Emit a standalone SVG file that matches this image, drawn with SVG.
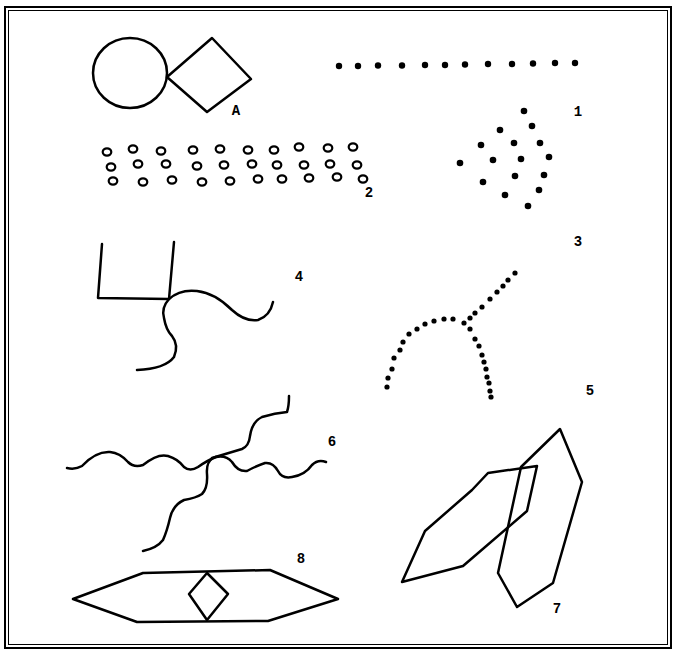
<svg xmlns="http://www.w3.org/2000/svg" width="673" height="651" viewBox="0 0 673 651">
<style>
.ln{fill:none;stroke:#000;stroke-width:2.5;stroke-linejoin:round;stroke-linecap:round}
.dot{fill:#000}
.ring{fill:none;stroke:#000;stroke-width:2.2}
.lbl{font-family:"Liberation Mono","DejaVu Sans Mono",monospace;font-weight:bold;font-size:14px;fill:#000;text-anchor:middle}
</style>
<rect width="673" height="651" fill="#fff"/>
<g id="frame">
<rect x="5" y="7" width="666" height="641" fill="none" stroke="#000" stroke-width="2"/>
<rect x="8.5" y="10.5" width="659" height="634" fill="none" stroke="#000" stroke-width="1"/>
</g>
<g id="figA">
<ellipse class="ln" cx="130" cy="73" rx="37" ry="35"/>
<polygon class="ln" points="167,77 212,38 251,79 207,112"/>
<text class="lbl" x="236" y="115">A</text>
</g>
<g id="fig1">
<circle class="dot" cx="339" cy="66" r="3.2"/>
<circle class="dot" cx="358" cy="66" r="3.2"/>
<circle class="dot" cx="378" cy="65.5" r="3.2"/>
<circle class="dot" cx="402" cy="65.5" r="3.2"/>
<circle class="dot" cx="425" cy="65" r="3.2"/>
<circle class="dot" cx="445" cy="65" r="3.2"/>
<circle class="dot" cx="465" cy="64.5" r="3.2"/>
<circle class="dot" cx="488" cy="64" r="3.2"/>
<circle class="dot" cx="512" cy="64" r="3.2"/>
<circle class="dot" cx="533" cy="63.5" r="3.2"/>
<circle class="dot" cx="555" cy="63" r="3.2"/>
<circle class="dot" cx="575" cy="63" r="3.2"/>
<text class="lbl" x="578" y="116">1</text>
</g>
<g id="fig2">
<ellipse class="ring" cx="107" cy="152" rx="4.3" ry="3.6"/>
<ellipse class="ring" cx="133" cy="149" rx="4.3" ry="3.6"/>
<ellipse class="ring" cx="161" cy="151" rx="4.3" ry="3.6"/>
<ellipse class="ring" cx="193" cy="150" rx="4.3" ry="3.6"/>
<ellipse class="ring" cx="220" cy="149" rx="4.3" ry="3.6"/>
<ellipse class="ring" cx="248" cy="150" rx="4.3" ry="3.6"/>
<ellipse class="ring" cx="274" cy="150" rx="4.3" ry="3.6"/>
<ellipse class="ring" cx="299" cy="147" rx="4.3" ry="3.6"/>
<ellipse class="ring" cx="328" cy="148" rx="4.3" ry="3.6"/>
<ellipse class="ring" cx="353" cy="147" rx="4.3" ry="3.6"/>
<ellipse class="ring" cx="111" cy="167" rx="4.3" ry="3.6"/>
<ellipse class="ring" cx="138" cy="164" rx="4.3" ry="3.6"/>
<ellipse class="ring" cx="166" cy="164" rx="4.3" ry="3.6"/>
<ellipse class="ring" cx="197" cy="166" rx="4.3" ry="3.6"/>
<ellipse class="ring" cx="224" cy="165" rx="4.3" ry="3.6"/>
<ellipse class="ring" cx="252" cy="164" rx="4.3" ry="3.6"/>
<ellipse class="ring" cx="277" cy="165" rx="4.3" ry="3.6"/>
<ellipse class="ring" cx="304" cy="165" rx="4.3" ry="3.6"/>
<ellipse class="ring" cx="330" cy="164" rx="4.3" ry="3.6"/>
<ellipse class="ring" cx="357" cy="165" rx="4.3" ry="3.6"/>
<ellipse class="ring" cx="113" cy="181" rx="4.3" ry="3.6"/>
<ellipse class="ring" cx="143" cy="182" rx="4.3" ry="3.6"/>
<ellipse class="ring" cx="172" cy="180" rx="4.3" ry="3.6"/>
<ellipse class="ring" cx="202" cy="182" rx="4.3" ry="3.6"/>
<ellipse class="ring" cx="230" cy="181" rx="4.3" ry="3.6"/>
<ellipse class="ring" cx="258" cy="179" rx="4.3" ry="3.6"/>
<ellipse class="ring" cx="282" cy="179" rx="4.3" ry="3.6"/>
<ellipse class="ring" cx="309" cy="178" rx="4.3" ry="3.6"/>
<ellipse class="ring" cx="337" cy="177" rx="4.3" ry="3.6"/>
<ellipse class="ring" cx="363" cy="179" rx="4.3" ry="3.6"/>
<text class="lbl" x="369" y="197">2</text>
</g>
<g id="fig3">
<circle class="dot" cx="524" cy="111" r="3.3"/>
<circle class="dot" cx="532" cy="126" r="3.3"/>
<circle class="dot" cx="500" cy="130" r="3.3"/>
<circle class="dot" cx="481" cy="145" r="3.3"/>
<circle class="dot" cx="514" cy="143" r="3.3"/>
<circle class="dot" cx="540" cy="143" r="3.3"/>
<circle class="dot" cx="460" cy="163" r="3.3"/>
<circle class="dot" cx="493" cy="160" r="3.3"/>
<circle class="dot" cx="521" cy="159" r="3.3"/>
<circle class="dot" cx="549" cy="157" r="3.3"/>
<circle class="dot" cx="515" cy="176" r="3.3"/>
<circle class="dot" cx="544" cy="175" r="3.3"/>
<circle class="dot" cx="483" cy="182" r="3.3"/>
<circle class="dot" cx="539" cy="190" r="3.3"/>
<circle class="dot" cx="505" cy="195" r="3.3"/>
<circle class="dot" cx="528" cy="206" r="3.3"/>
<text class="lbl" x="578" y="246">3</text>
</g>
<g id="fig4">
<polyline class="ln" points="102,244 98,298 169,299 174,242"/>
<path class="ln" d="M169,299 Q180,289 197,291 Q215,293 232,310 Q245,322 258,320 Q270,316 273,302"/>
<path class="ln" d="M169,299 Q161,308 164,318 Q166,330 172,336 Q179,345 174,357 Q165,369 137,370"/>
<text class="lbl" x="299" y="281">4</text>
</g>
<g id="fig5">
<circle class="dot" cx="515" cy="273" r="2.6"/>
<circle class="dot" cx="508" cy="280" r="2.6"/>
<circle class="dot" cx="503" cy="286" r="2.6"/>
<circle class="dot" cx="497" cy="292" r="2.6"/>
<circle class="dot" cx="490" cy="299" r="2.6"/>
<circle class="dot" cx="482" cy="307" r="2.6"/>
<circle class="dot" cx="475" cy="313" r="2.6"/>
<circle class="dot" cx="470" cy="318" r="2.6"/>
<circle class="dot" cx="464" cy="323" r="2.6"/>
<circle class="dot" cx="453" cy="319" r="2.6"/>
<circle class="dot" cx="444" cy="319" r="2.6"/>
<circle class="dot" cx="434" cy="321" r="2.6"/>
<circle class="dot" cx="425" cy="324" r="2.6"/>
<circle class="dot" cx="417" cy="329" r="2.6"/>
<circle class="dot" cx="409" cy="334" r="2.6"/>
<circle class="dot" cx="403" cy="342" r="2.6"/>
<circle class="dot" cx="400" cy="350" r="2.6"/>
<circle class="dot" cx="394" cy="358" r="2.6"/>
<circle class="dot" cx="392" cy="369" r="2.6"/>
<circle class="dot" cx="388" cy="378" r="2.6"/>
<circle class="dot" cx="387" cy="387" r="2.6"/>
<circle class="dot" cx="470" cy="329" r="2.6"/>
<circle class="dot" cx="475" cy="339" r="2.6"/>
<circle class="dot" cx="479" cy="346" r="2.6"/>
<circle class="dot" cx="482" cy="355" r="2.6"/>
<circle class="dot" cx="484" cy="362" r="2.6"/>
<circle class="dot" cx="486" cy="369" r="2.6"/>
<circle class="dot" cx="487" cy="377" r="2.6"/>
<circle class="dot" cx="489" cy="383" r="2.6"/>
<circle class="dot" cx="490" cy="391" r="2.6"/>
<circle class="dot" cx="491" cy="397" r="2.6"/>
<text class="lbl" x="590" y="395">5</text>
</g>
<g id="fig6">
<path class="ln" d="M67,468 Q75,470 82,466 Q96,451 110,452 Q120,453 128,462 Q134,468 143,465 Q158,453 168,456 Q178,459 184,467 Q190,472 198,467 Q208,460 216,457"/>
<path class="ln" d="M216,457 Q226,455 232,462 Q238,472 247,471 Q256,466 265,463 Q273,462 278,471 Q282,479 292,477 Q305,475 312,465 Q318,459 326,462"/>
<path class="ln" d="M212,458 Q232,452 242,449 Q249,446 250,436 Q252,422 262,417 Q275,413 287,412 Q289,406 289,396"/>
<path class="ln" d="M213,458 Q206,462 207,474 Q208,488 202,494 Q196,498 184,500 Q173,505 170,518 Q167,531 163,540 Q157,548 143,551"/>
<text class="lbl" x="332" y="446">6</text>
</g>
<g id="fig7">
<polygon class="ln" points="537,466 527,511 463,566 402,582 425,531 472,490 488,473"/>
<polygon class="ln" points="560,429 582,482 553,583 517,607 498,573 521,467"/>
<text class="lbl" x="557" y="613">7</text>
</g>
<g id="fig8">
<polygon class="ln" points="73,599 143,573 270,570 338,599 268,621 137,622"/>
<polygon class="ln" points="207,573 228,594 207,620 189,594"/>
<text class="lbl" x="301" y="563">8</text>
</g>
</svg>
